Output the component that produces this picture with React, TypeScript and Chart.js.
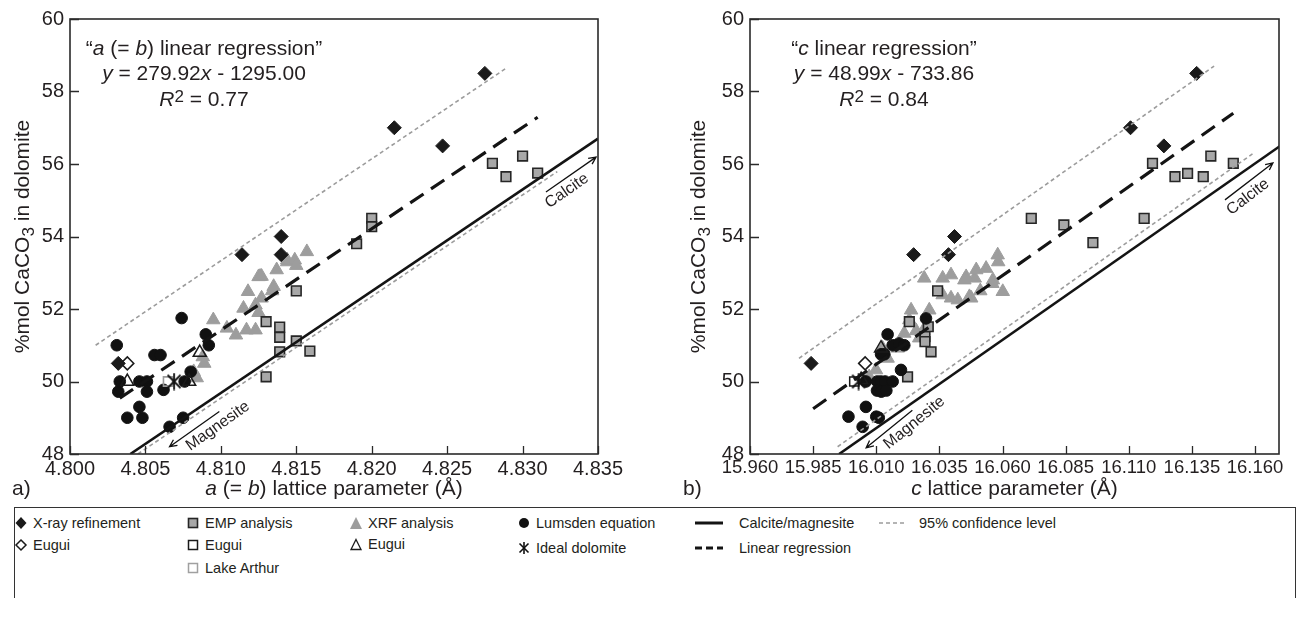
import React, { useEffect, useRef } from 'react';
import { Chart, registerables } from 'chart.js';
Chart.register(...registerables);

const FONT = '"Liberation Sans", Arial, Helvetica, sans-serif';
const INK = '#231f20';

// ---------- axis ticks ----------
const Y_TICKS = [48, 50, 52, 54, 56, 58, 60];
const A_TICKS = [4.8, 4.805, 4.81, 4.815, 4.82, 4.825, 4.83, 4.835];
const C_TICKS = [15.96, 15.985, 16.01, 16.035, 16.06, 16.085, 16.11, 16.135, 16.16];

// ---------- panel a: a (= b) lattice parameter ----------
const A_XRAY_X = [4.8032, 4.8114, 4.814, 4.814, 4.8215, 4.8247, 4.8275];
const A_XRAY_Y = [50.5, 53.5, 54.0, 53.5, 57.0, 56.5, 58.5];
const A_EUGUI_DIA_X = [4.8038];
const A_EUGUI_DIA_Y = [50.5];
const A_EMP_X = [4.813, 4.813, 4.8139, 4.8139, 4.8139, 4.815, 4.815, 4.8159, 4.819, 4.82, 4.82, 4.828, 4.8289, 4.83, 4.831];
const A_EMP_Y = [51.65, 50.13, 51.5, 51.22, 50.82, 52.5, 51.12, 50.84, 53.8, 54.5, 54.27, 56.02, 55.65, 56.22, 55.75];
const A_EUGUI_SQ_X: number[] = [];
const A_EUGUI_SQ_Y: number[] = [];
const A_LAKE_X = [4.8065];
const A_LAKE_Y = [50.0];
const A_XRF_X = [4.8082, 4.8084, 4.8088, 4.8089, 4.8095, 4.8104, 4.811, 4.8115, 4.8117, 4.8118, 4.8123, 4.8123, 4.8125, 4.8125, 4.8126, 4.8127, 4.8127, 4.8134, 4.8135, 4.8137, 4.8144, 4.8144, 4.8149, 4.815, 4.8157];
const A_XRF_Y = [50.27, 50.1, 50.68, 50.5, 51.7, 51.47, 51.28, 52.02, 51.42, 52.48, 51.42, 52.11, 52.89, 51.9, 52.9, 52.9, 52.3, 52.5, 52.62, 53.08, 53.3, 53.35, 53.35, 53.2, 53.58];
const A_EUGUI_TRI_X = [4.8038, 4.8086, 4.8079];
const A_EUGUI_TRI_Y = [50.0, 50.8, 50.0];
const A_LUMSDEN_X = [4.8031, 4.8032, 4.8033, 4.8038, 4.8046, 4.8046, 4.8048, 4.8051, 4.8051, 4.8056, 4.806, 4.8062, 4.8066, 4.8074, 4.8075, 4.8076, 4.808, 4.809, 4.8092];
const A_LUMSDEN_Y = [51.0, 49.72, 50.0, 49.0, 50.0, 49.3, 49.0, 50.0, 49.72, 50.73, 50.73, 49.77, 48.75, 51.75, 49.0, 50.0, 50.27, 51.3, 51.0];
const A_IDEAL_X = [4.8069];
const A_IDEAL_Y = [50.0];
const A_CM_X = [4.804, 4.835];
const A_CM_Y = [48.0, 56.7];
const A_REG_X = [4.8033, 4.831];
const A_REG_Y = [49.54, 57.29];
const A_UP95_X = [4.8017, 4.8289];
const A_UP95_Y = [51.0, 58.64];
const A_LO95_X = [4.8045, 4.8323];
const A_LO95_Y = [48.0, 55.79];

// ---------- panel b: c lattice parameter ----------
const C_XRAY_X = [15.9842, 16.0248, 16.041, 16.0386, 16.1107, 16.1239, 16.1369];
const C_XRAY_Y = [50.5, 53.5, 54.0, 53.5, 57.0, 56.5, 58.5];
const C_EUGUI_DIA_X = [16.0056];
const C_EUGUI_DIA_Y = [50.5];
const C_EMP_X = [16.0343, 16.0231, 16.0306, 16.0293, 16.0293, 16.0317, 16.0224, 16.0714, 16.0843, 16.0958, 16.1161, 16.1194, 16.1283, 16.1333, 16.1395, 16.1425, 16.1514];
const C_EMP_Y = [52.5, 51.65, 51.51, 51.24, 51.1, 50.82, 50.13, 54.5, 54.32, 53.83, 54.5, 56.02, 55.65, 55.74, 55.65, 56.22, 56.02];
const C_EUGUI_SQ_X = [16.0013];
const C_EUGUI_SQ_Y = [50.0];
const C_LAKE_X: number[] = [];
const C_LAKE_Y: number[] = [];
const C_XRF_X = [16.0072, 16.0099, 16.0125, 16.0145, 16.0185, 16.0211, 16.0231, 16.0238, 16.0258, 16.027, 16.0286, 16.031, 16.029, 16.0363, 16.0396, 16.0363, 16.0396, 16.0423, 16.0449, 16.0469, 16.049, 16.0456, 16.0496, 16.0535, 16.0581, 16.0583, 16.0562, 16.0601, 16.0476, 16.0512, 16.056];
const C_XRF_Y = [50.13, 50.32, 50.92, 50.64, 50.92, 51.33, 51.7, 51.97, 51.4, 51.2, 51.4, 51.97, 52.85, 52.85, 52.94, 52.39, 52.3, 52.25, 52.8, 52.34, 52.85, 52.89, 53.08, 53.12, 53.49, 53.3, 52.8, 52.48, 52.3, 52.5, 52.7];
const C_EUGUI_TRI_X = [16.0119, 16.004];
const C_EUGUI_TRI_Y = [50.92, 50.05];
const C_LUMSDEN_X = [15.999, 16.0046, 16.0059, 16.0059, 16.01, 16.011, 16.0104, 16.0118, 16.0135, 16.0165, 16.0103, 16.012, 16.014, 16.0119, 16.0132, 16.0145, 16.0165, 16.019, 16.0211, 16.0198, 16.0297];
const C_LUMSDEN_Y = [49.03, 48.75, 49.3, 50.0, 49.03, 49.0, 50.0, 50.0, 50.0, 50.0, 49.75, 49.72, 49.75, 50.75, 50.75, 51.3, 51.0, 51.05, 51.0, 50.32, 51.74];
const C_IDEAL_X = [16.003];
const C_IDEAL_Y = [50.0];
const C_CM_X = [15.9953, 16.17];
const C_CM_Y = [48.0, 56.5];
const C_REG_X = [15.985, 16.1514];
const C_REG_Y = [49.25, 57.40];
const C_UP95_X = [15.9794, 16.1438];
const C_UP95_Y = [50.64, 58.7];
const C_LO95_X = [15.9947, 16.159];
const C_LO95_Y = [48.2, 56.28];

// ---------- helpers ----------
type Seg = { t: string; it?: boolean; sup?: boolean; sub?: boolean };
const zip = (xs: number[], ys: number[]) => xs.map((x, i) => ({ x, y: ys[i] }));

function drawRich(ctx: CanvasRenderingContext2D, segs: Seg[], cx: number, cy: number, size: number, align: 'center' | 'left' = 'center') {
  const fonts = segs.map((s) => `${s.it ? 'italic ' : ''}${s.sup || s.sub ? Math.round(size * 0.8) : size}px ${FONT}`);
  let total = 0;
  const ws = segs.map((s, i) => {
    ctx.font = fonts[i];
    const w = ctx.measureText(s.t).width;
    total += w;
    return w;
  });
  let x = align === 'center' ? cx - total / 2 : cx;
  ctx.textAlign = 'left';
  ctx.textBaseline = 'middle';
  segs.forEach((s, i) => {
    ctx.font = fonts[i];
    const dy = s.sup ? -size * 0.15 : s.sub ? size * 0.3 : 0;
    ctx.fillText(s.t, x, cy + dy);
    x += ws[i];
  });
}

function makeIdealCanvas(): HTMLCanvasElement {
  const c = document.createElement('canvas');
  c.width = 16;
  c.height = 18;
  const g = c.getContext('2d')!;
  g.strokeStyle = '#111';
  g.lineWidth = 1.8;
  g.beginPath();
  g.moveTo(8, 0.5); g.lineTo(8, 17.5);
  g.moveTo(1.5, 2.5); g.lineTo(14.5, 15.5);
  g.moveTo(14.5, 2.5); g.lineTo(1.5, 15.5);
  g.stroke();
  return c;
}

interface Arrow { from: number[]; to: number[]; label: string; at: number[] }
interface PanelSpec {
  W: number; H: number; areaL: number; areaR: number;
  xMin: number; xMax: number; xTicks: number[]; xTickSize: number;
  xray: [number[], number[]]; euguiDia: [number[], number[]]; emp: [number[], number[]];
  euguiSq: [number[], number[]]; lake: [number[], number[]]; xrf: [number[], number[]];
  euguiTri: [number[], number[]]; lumsden: [number[], number[]]; ideal: [number[], number[]];
  cm: [number[], number[]]; reg: [number[], number[]]; up95: [number[], number[]]; lo95: [number[], number[]];
  eq: Seg[][]; eqX: number; yTitleX: number; xTitle: Seg[]; panel: string; panelX: number;
  arrows: Arrow[];
}

const BOTTOM = 454;
const TOP = 19;

const PANEL_A: PanelSpec = {
  W: 640, H: 505, areaL: 70, areaR: 598,
  xMin: 4.8, xMax: 4.835, xTicks: A_TICKS, xTickSize: 20,
  xray: [A_XRAY_X, A_XRAY_Y], euguiDia: [A_EUGUI_DIA_X, A_EUGUI_DIA_Y], emp: [A_EMP_X, A_EMP_Y],
  euguiSq: [A_EUGUI_SQ_X, A_EUGUI_SQ_Y], lake: [A_LAKE_X, A_LAKE_Y], xrf: [A_XRF_X, A_XRF_Y],
  euguiTri: [A_EUGUI_TRI_X, A_EUGUI_TRI_Y], lumsden: [A_LUMSDEN_X, A_LUMSDEN_Y], ideal: [A_IDEAL_X, A_IDEAL_Y],
  cm: [A_CM_X, A_CM_Y], reg: [A_REG_X, A_REG_Y], up95: [A_UP95_X, A_UP95_Y], lo95: [A_LO95_X, A_LO95_Y],
  eq: [
    [{ t: '“' }, { t: 'a', it: true }, { t: ' (= ' }, { t: 'b', it: true }, { t: ') linear regression”' }],
    [{ t: 'y', it: true }, { t: ' = 279.92' }, { t: 'x', it: true }, { t: ' - 1295.00' }],
    [{ t: 'R', it: true }, { t: '2', sup: true }, { t: ' = 0.77' }],
  ],
  eqX: 204, yTitleX: 23,
  xTitle: [{ t: 'a', it: true }, { t: ' (= ' }, { t: 'b', it: true }, { t: ') lattice parameter (Å)' }],
  panel: 'a)', panelX: 12,
  arrows: [
    { from: [4.8099, 49.17], to: [4.8066, 48.2], label: 'Magnesite', at: [4.8098, 48.77] },
    { from: [4.83155, 55.23], to: [4.83487, 56.19], label: 'Calcite', at: [4.83294, 55.26] },
  ],
};

const PANEL_C: PanelSpec = {
  W: 656, H: 505, areaL: 100, areaR: 629,
  xMin: 15.96, xMax: 16.1695, xTicks: C_TICKS, xTickSize: 18.5,
  xray: [C_XRAY_X, C_XRAY_Y], euguiDia: [C_EUGUI_DIA_X, C_EUGUI_DIA_Y], emp: [C_EMP_X, C_EMP_Y],
  euguiSq: [C_EUGUI_SQ_X, C_EUGUI_SQ_Y], lake: [C_LAKE_X, C_LAKE_Y], xrf: [C_XRF_X, C_XRF_Y],
  euguiTri: [C_EUGUI_TRI_X, C_EUGUI_TRI_Y], lumsden: [C_LUMSDEN_X, C_LUMSDEN_Y], ideal: [C_IDEAL_X, C_IDEAL_Y],
  cm: [C_CM_X, C_CM_Y], reg: [C_REG_X, C_REG_Y], up95: [C_UP95_X, C_UP95_Y], lo95: [C_LO95_X, C_LO95_Y],
  eq: [
    [{ t: '“' }, { t: 'c', it: true }, { t: ' linear regression”' }],
    [{ t: 'y', it: true }, { t: ' = 48.99' }, { t: 'x', it: true }, { t: ' - 733.86' }],
    [{ t: 'R', it: true }, { t: '2', sup: true }, { t: ' = 0.84' }],
  ],
  eqX: 234, yTitleX: 49,
  xTitle: [{ t: 'c', it: true }, { t: ' lattice parameter (Å)' }],
  panel: 'b)', panelX: 33,
  arrows: [
    { from: [16.0243, 49.21], to: [16.006, 48.17], label: 'Magnesite', at: [16.0251, 48.86] },
    { from: [16.1481, 55.01], to: [16.1671, 56.03], label: 'Calcite', at: [16.1572, 55.09] },
  ],
};

function buildChart(canvas: HTMLCanvasElement, p: PanelSpec) {
  const ideal = makeIdealCanvas();
  const pts = (d: [number[], number[]], style: any, radius: number, fill: string, border: string, bw: number, order = 1) => ({
    data: zip(d[0], d[1]),
    pointStyle: style,
    pointRadius: radius,
    backgroundColor: fill,
    borderColor: border,
    pointBorderWidth: bw,
    borderWidth: bw,
    showLine: false,
    order,
  });
  const line = (d: [number[], number[]], color: string, width: number, dash: number[]) => ({
    data: zip(d[0], d[1]),
    showLine: true,
    pointRadius: 0,
    borderColor: color,
    borderWidth: width,
    borderDash: dash,
    backgroundColor: color,
    fill: false,
    clip: 0,
    order: 0,
  });

  const framePlugin = {
    id: 'frame',
    afterDatasetsDraw(chart: any) {
      const { ctx, chartArea: a, scales } = chart;
      ctx.save();
      ctx.strokeStyle = '#2a2a2a';
      ctx.lineWidth = 1.6;
      ctx.strokeRect(a.left, a.top, a.right - a.left, a.bottom - a.top);
      ctx.beginPath();
      scales.x.ticks.forEach((t: any) => {
        const px = Math.round(scales.x.getPixelForValue(t.value)) + 0.5;
        ctx.moveTo(px, a.bottom);
        ctx.lineTo(px, a.bottom - 8);
      });
      scales.y.ticks.forEach((t: any) => {
        const py = Math.round(scales.y.getPixelForValue(t.value)) + 0.5;
        ctx.moveTo(a.left, py);
        ctx.lineTo(a.left + 9, py);
      });
      ctx.lineWidth = 1.3;
      ctx.stroke();
      ctx.restore();
    },
    afterDraw(chart: any) {
      const { ctx, chartArea: a, scales } = chart;
      ctx.save();
      ctx.fillStyle = INK;
      p.eq.forEach((segs, i) => drawRich(ctx, segs, p.eqX, 49 + i * 25.5, 21));
      drawRich(ctx, p.xTitle, (a.left + a.right) / 2, 489, 21);
      drawRich(ctx, [{ t: p.panel }], p.panelX, 489, 21, 'left');
      ctx.save();
      ctx.translate(p.yTitleX, (a.top + a.bottom) / 2);
      ctx.rotate(-Math.PI / 2);
      drawRich(ctx, [{ t: '%mol CaCO' }, { t: '3', sub: true }, { t: ' in dolomite' }], 0, 0, 21);
      ctx.restore();
      p.arrows.forEach((ar) => {
        const x1 = scales.x.getPixelForValue(ar.from[0]);
        const y1 = scales.y.getPixelForValue(ar.from[1]);
        const x2 = scales.x.getPixelForValue(ar.to[0]);
        const y2 = scales.y.getPixelForValue(ar.to[1]);
        const ang = Math.atan2(y2 - y1, x2 - x1);
        ctx.strokeStyle = '#111';
        ctx.lineWidth = 1.3;
        ctx.beginPath();
        ctx.moveTo(x1, y1);
        ctx.lineTo(x2, y2);
        ctx.moveTo(x2 - 8 * Math.cos(ang - 0.45), y2 - 8 * Math.sin(ang - 0.45));
        ctx.lineTo(x2, y2);
        ctx.lineTo(x2 - 8 * Math.cos(ang + 0.45), y2 - 8 * Math.sin(ang + 0.45));
        ctx.stroke();
        const tx = scales.x.getPixelForValue(ar.at[0]);
        const ty = scales.y.getPixelForValue(ar.at[1]);
        let ta = ang;
        if (Math.cos(ta) < 0) ta += Math.PI;
        ctx.save();
        ctx.translate(tx, ty);
        ctx.rotate(ta);
        ctx.fillStyle = INK;
        ctx.font = `16px ${FONT}`;
        ctx.textAlign = 'center';
        ctx.textBaseline = 'middle';
        ctx.fillText(ar.label, 0, 0);
        ctx.restore();
      });
      ctx.restore();
    },
  };

  return new Chart(canvas, {
    type: 'scatter',
    data: {
      datasets: [
        line(p.reg, '#141414', 3.2, [16, 9]),
        line(p.cm, '#141414', 2.6, []),
        line(p.up95, '#9c9c9c', 1.6, [4, 3]),
        line(p.lo95, '#9c9c9c', 1.6, [4, 3]),
        pts(p.ideal, ideal, 9, '#111', '#111', 1, 1),
        pts(p.xray, 'rectRot', 7, '#1a1a1a', '#1a1a1a', 1, 2),
        pts(p.euguiDia, 'rectRot', 6.5, '#ffffff', '#1a1a1a', 1.5, 2),
        pts(p.euguiSq, 'rect', 6.5, '#ffffff', '#1a1a1a', 1.5, 2),
        pts(p.lake, 'rect', 6.5, 'rgba(255,255,255,0)', '#9a9a9a', 1.6, 2),
        pts(p.euguiTri, 'triangle', 7.5, 'rgba(255,255,255,0)', '#1a1a1a', 1.5, 2),
        pts(p.lumsden, 'circle', 5.8, '#111', '#111', 1, 3),
        pts(p.emp, 'rect', 6.8, '#a8a8a8', '#262626', 1.6, 4),
        pts(p.xrf, 'triangle', 7.8, '#9d9d9d', '#9d9d9d', 1, 5),
      ] as any,
    },
    options: {
      animation: false,
      responsive: false,
      events: [],
      layout: { padding: { left: 0, top: TOP, right: p.W - p.areaR, bottom: 0 } },
      plugins: { legend: { display: false }, tooltip: { enabled: false } },
      scales: {
        x: {
          type: 'linear',
          min: p.xMin,
          max: p.xMax,
          grid: { display: false, drawTicks: false },
          border: { display: false },
          afterBuildTicks: (s: any) => { s.ticks = p.xTicks.map((v) => ({ value: v })); },
          afterFit: (s: any) => { s.height = p.H - BOTTOM; },
          ticks: {
            padding: 3,
            color: INK,
            font: { family: FONT, size: p.xTickSize },
            maxRotation: 0,
            autoSkip: false,
            callback: (v: any) => Number(v).toFixed(3),
          },
        },
        y: {
          type: 'linear',
          min: 48,
          max: 60,
          grid: { display: false, drawTicks: false },
          border: { display: false },
          afterBuildTicks: (s: any) => { s.ticks = Y_TICKS.map((v) => ({ value: v })); },
          afterFit: (s: any) => { s.width = p.areaL; },
          ticks: {
            padding: 6,
            color: INK,
            font: { family: FONT, size: 20 },
            callback: (v: any) => String(v),
          },
        },
      },
    },
    plugins: [framePlugin],
  } as any);
}

// ---------- legend ----------
const MK = 14;
function Marker({ kind }: { kind: string }) {
  const s = MK;
  let el: any = null;
  if (kind === 'diaF') el = <polygon points="7,1 12.5,7 7,13 1.5,7" fill="#1a1a1a" />;
  if (kind === 'diaO') el = <polygon points="7,2 12,7 7,12 2,7" fill="#fff" stroke="#1a1a1a" strokeWidth={1.5} />;
  if (kind === 'sqEMP') el = <rect x={2.5} y={2.5} width={9} height={9} fill="#a8a8a8" stroke="#262626" strokeWidth={1.6} />;
  if (kind === 'sqO') el = <rect x={2.5} y={2.5} width={9} height={9} fill="#fff" stroke="#1a1a1a" strokeWidth={1.5} />;
  if (kind === 'sqL') el = <rect x={2.5} y={2.5} width={9} height={9} fill="#fff" stroke="#a0a0a0" strokeWidth={1.5} />;
  if (kind === 'triF') el = <polygon points="7,1 13,13 1,13" fill="#9d9d9d" />;
  if (kind === 'triO') el = <polygon points="7,2.5 12,12.5 2,12.5" fill="#fff" stroke="#1a1a1a" strokeWidth={1.3} />;
  if (kind === 'circ') el = <circle cx={7} cy={7} r={5} fill="#111" />;
  if (kind === 'ideal') el = (
    <g stroke="#111" strokeWidth={1.6}>
      <line x1={7} y1={1} x2={7} y2={13} />
      <line x1={2.5} y1={2.5} x2={11.5} y2={11.5} />
      <line x1={11.5} y1={2.5} x2={2.5} y2={11.5} />
    </g>
  );
  return <svg width={s} height={s} style={{ display: 'block' }}>{el}</svg>;
}

function LineKey({ kind }: { kind: string }) {
  const w = 28;
  let el: any = null;
  if (kind === 'solid') el = <line x1={0} y1={5} x2={w} y2={5} stroke="#141414" strokeWidth={3} />;
  if (kind === 'dash') el = <line x1={0} y1={5} x2={w} y2={5} stroke="#141414" strokeWidth={3} strokeDasharray="7,4" />;
  if (kind === 'dot') el = <line x1={0} y1={5} x2={w} y2={5} stroke="#9c9c9c" strokeWidth={1.5} strokeDasharray="4,3" />;
  return <svg width={w} height={10} style={{ display: 'block' }}>{el}</svg>;
}

const LEG_MARK_ITEMS: { x: number; y: number; kind: string; label: string }[] = [
  { x: 21, y: 523, kind: 'diaF', label: 'X-ray refinement' },
  { x: 21, y: 545, kind: 'diaO', label: 'Eugui' },
  { x: 193, y: 523, kind: 'sqEMP', label: 'EMP analysis' },
  { x: 193, y: 545, kind: 'sqO', label: 'Eugui' },
  { x: 193, y: 568, kind: 'sqL', label: 'Lake Arthur' },
  { x: 356, y: 523, kind: 'triF', label: 'XRF analysis' },
  { x: 356, y: 544, kind: 'triO', label: 'Eugui' },
  { x: 524, y: 523, kind: 'circ', label: 'Lumsden equation' },
  { x: 524, y: 548, kind: 'ideal', label: 'Ideal dolomite' },
];
const LEG_LINE_ITEMS: { x: number; y: number; kind: string; label: string; tx: number }[] = [
  { x: 695, y: 523, kind: 'solid', label: 'Calcite/magnesite', tx: 739 },
  { x: 695, y: 548, kind: 'dash', label: 'Linear regression', tx: 739 },
  { x: 879, y: 523, kind: 'dot', label: '95% confidence level', tx: 919 },
];

function Legend() {
  const txt: React.CSSProperties = {
    position: 'absolute', fontFamily: FONT, fontSize: 14.5, color: INK, lineHeight: '16px', whiteSpace: 'nowrap',
  };
  return (
    <>
      <div
        style={{
          position: 'absolute', left: 14, top: 507, width: 1282, height: 91,
          borderTop: '1.5px solid #333', borderLeft: '1.5px solid #333', borderRight: '1.5px solid #333',
          boxSizing: 'border-box',
        }}
      />
      {LEG_MARK_ITEMS.map((it, i) => (
        <React.Fragment key={'m' + i}>
          <div style={{ position: 'absolute', left: it.x - 7, top: it.y - 7 }}><Marker kind={it.kind} /></div>
          <div style={{ ...txt, left: it.x + 12, top: it.y - 8 }}>{it.label}</div>
        </React.Fragment>
      ))}
      {LEG_LINE_ITEMS.map((it, i) => (
        <React.Fragment key={'l' + i}>
          <div style={{ position: 'absolute', left: it.x, top: it.y - 5 }}><LineKey kind={it.kind} /></div>
          <div style={{ ...txt, left: it.tx, top: it.y - 8 }}>{it.label}</div>
        </React.Fragment>
      ))}
    </>
  );
}

export default function App() {
  const leftRef = useRef<HTMLCanvasElement>(null);
  const rightRef = useRef<HTMLCanvasElement>(null);
  useEffect(() => {
    const c1 = buildChart(leftRef.current!, PANEL_A);
    const c2 = buildChart(rightRef.current!, PANEL_C);
    return () => { c1.destroy(); c2.destroy(); };
  }, []);
  return (
    <div style={{ position: 'absolute', left: 0, top: 0, width: 1306, height: 617, background: '#fff', overflow: 'hidden' }}>
      <canvas ref={leftRef} width={PANEL_A.W} height={PANEL_A.H} style={{ position: 'absolute', left: 0, top: 0, width: PANEL_A.W, height: PANEL_A.H }} />
      <canvas ref={rightRef} width={PANEL_C.W} height={PANEL_C.H} style={{ position: 'absolute', left: 650, top: 0, width: PANEL_C.W, height: PANEL_C.H }} />
      <Legend />
    </div>
  );
}
